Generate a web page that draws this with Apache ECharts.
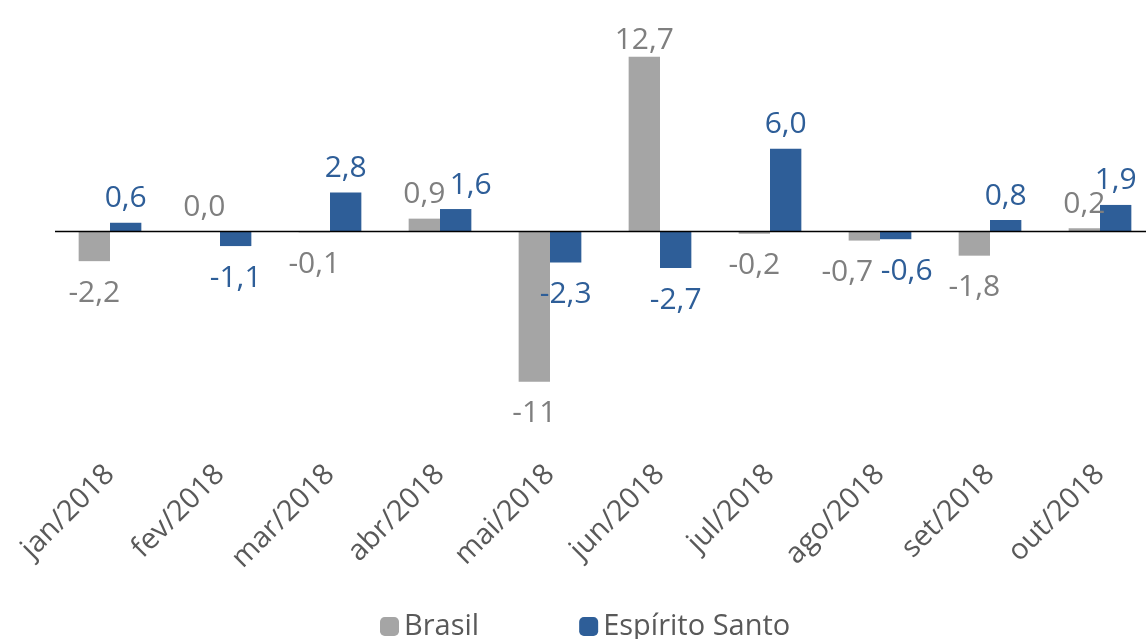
<!DOCTYPE html>
<html><head><meta charset="utf-8">
<script src="https://cdn.jsdelivr.net/npm/echarts@6/dist/echarts.min.js"></script>
<style>html,body{margin:0;padding:0;background:#fff}#c{width:1146px;height:639px}</style>
</head><body><div id="c"></div>
<script>
const categories = ['jan/2018','fev/2018','mar/2018','abr/2018','mai/2018','jun/2018','jul/2018','ago/2018','set/2018','out/2018'];
const brasil = [-2.2, 0.0, -0.1, 0.9, -11, 12.7, -0.2, -0.7, -1.8, 0.2];
const espiritoSanto = [0.6, -1.1, 2.8, 1.6, -2.3, -2.7, 6.0, -0.6, 0.8, 1.9];
const seriesNames = ['Brasil', 'Espírito Santo'];

// label nudges (style only) to mimic the reference's overlap avoidance
const labelShiftBrasil = { 7: [-17, 0], 5: [0, 8] };
const labelShiftES = { 3: [15, 0], 7: [11, 0] };

const FONT = '"Open Sans", "Noto Sans", sans-serif';
function fmt(v){ return Number.isInteger(v) && Math.abs(v) >= 10 ? String(v) : v.toFixed(1).replace('.', ','); }
function mk(vals, labelColor, shifts){
  return vals.map((v, i) => ({
    value: v,
    label: {
      show: true,
      position: v >= 0 ? 'top' : 'bottom',
      distance: v >= 0 ? 9 : 17,
      offset: shifts[i] || [0, 0],
      color: labelColor,
      fontSize: 30,
      fontFamily: FONT,
      formatter: p => fmt(p.value)
    }
  }));
}
const chart = echarts.init(document.getElementById('c'));
chart.setOption({
  animation: false,
  grid: { left: 55, width: 1100, top: 39, bottom: 179, containLabel: false, outerBoundsMode: 'none' },
  xAxis: {
    type: 'category', data: categories,
    axisLine: { show: false }, axisTick: { show: false },
    axisLabel: { rotate: 45, margin: 10, fontSize: 29, color: '#595959', fontFamily: FONT, interval: 0 }
  },
  yAxis: { type: 'value', min: -16.7, max: 14, show: false, splitLine: { show: false } },
  legend: {
    top: 607, left: 375, itemGap: 100, itemWidth: 19, itemHeight: 19,
    textStyle: { fontSize: 29, color: '#595959', fontFamily: FONT },
    data: seriesNames
  },
  series: [
    { name: seriesNames[0], type: 'bar', data: mk(brasil, '#7f7f7f', labelShiftBrasil), itemStyle: { color: '#a5a5a5' }, barGap: '0%', barCategoryGap: '43%',
      markLine: { silent: true, symbol: 'none', label: { show: false }, lineStyle: { color: '#000', width: 1.3, type: 'solid' }, data: [{ yAxis: 0 }] } },
    { name: seriesNames[1], type: 'bar', data: mk(espiritoSanto, '#2e5e98', labelShiftES), itemStyle: { color: '#2e5e98' }, barGap: '0%', barCategoryGap: '43%' }
  ]
});
</script></body></html>
